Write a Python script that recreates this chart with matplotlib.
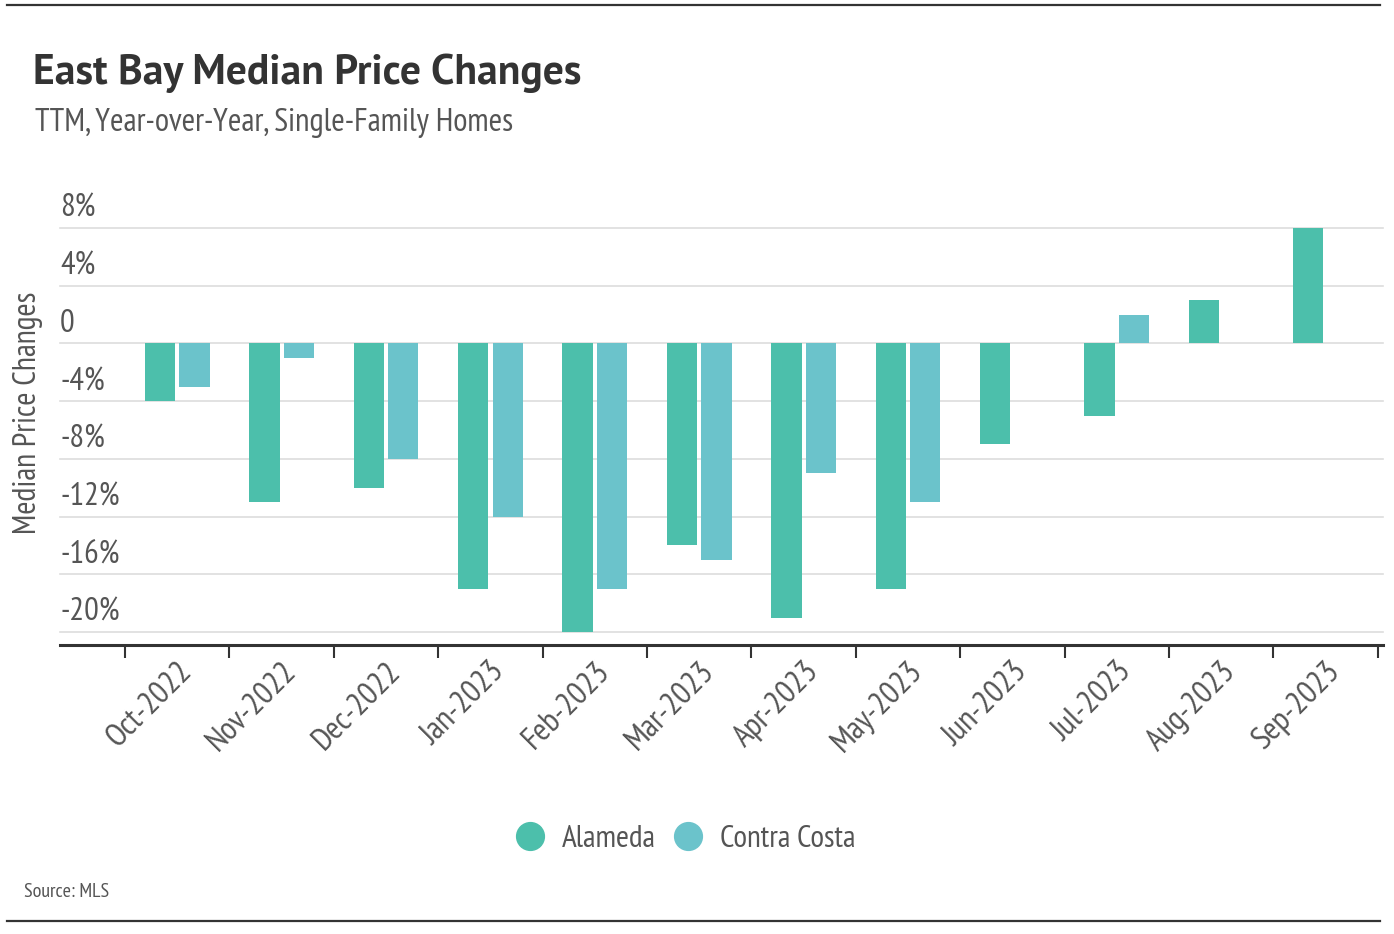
import numpy as np
import matplotlib
matplotlib.use("Agg")
import matplotlib.pyplot as plt
from matplotlib import font_manager
from matplotlib.lines import Line2D
from matplotlib.transforms import blended_transform_factory, offset_copy

# Data
months = ['Oct-2022', 'Nov-2022', 'Dec-2022', 'Jan-2023', 'Feb-2023', 'Mar-2023',
          'Apr-2023', 'May-2023', 'Jun-2023', 'Jul-2023', 'Aug-2023', 'Sep-2023']
alameda = [-4, -11, -10, -17, -20, -14, -19, -17, -7, -5, 3, 8]
contra_costa = [-3, -1, -8, -12, -17, -15, -9, -11, np.nan, 2, np.nan, np.nan]
y_ticks = [8, 4, 0, -4, -8, -12, -16, -20]
y_tick_labels = ['8%', '4%', '0', '-4%', '-8%', '-12%', '-16%', '-20%']

c_alameda = '#4cbfab'
c_contra = '#6bc3cb'
txt = '#555555'
dark = '#333333'

names = {f.name for f in font_manager.fontManager.ttflist}


def pick(prefs):
    return [n for n in prefs if n in names][:1] + ['DejaVu Sans']


narrow = pick(['PT Sans Narrow', 'Roboto Condensed', 'Noto Sans Condensed',
               'Liberation Sans Narrow', 'Lato'])
wide = pick(['PT Sans', 'Lato', 'Noto Sans'])
plt.rcParams['font.family'] = narrow

fig = plt.figure(figsize=(13.94, 9.34), dpi=100)
ax = fig.add_axes([60 / 1394, 1 - 645 / 934, (1383 - 60) / 1394, (645 - 228) / 934])

x = np.arange(len(months))
w = 0.29
ax.bar(x - 0.165, alameda, width=w, color=c_alameda, label='Alameda', zorder=3)
ax.bar(x + 0.165, contra_costa, width=w, color=c_contra, label='Contra Costa', zorder=3)

ax.set_xlim(-1.123, 11.55)
ax.set_ylim(-20.9, 8.0)

# gridlines + labels sitting above them
for v in y_ticks:
    ax.axhline(v, color='#dddddd', lw=1.2, zorder=1, clip_on=False)
trans = blended_transform_factory(ax.transAxes, ax.transData)
trans = offset_copy(trans, fig=fig, x=0, y=11, units='dots')
for v, lab in zip(y_ticks, y_tick_labels):
    ax.text(0, v, lab, transform=trans, ha='left', va='baseline',
            fontsize=23.5, color=txt, clip_on=False)

for s in ['top', 'right', 'left']:
    ax.spines[s].set_visible(False)
ax.spines['bottom'].set_color(dark)
ax.spines['bottom'].set_linewidth(2.2)
ax.set_yticks([])

# category boundaries as minor ticks, labels at centres
ax.set_xticks(np.arange(-0.5, len(months)), minor=True)
ax.tick_params(axis='x', which='minor', length=9, width=1.5, color=dark)
ax.set_xticks(x, months)
ax.tick_params(axis='x', which='major', length=0, pad=8, labelsize=23.5, labelcolor=txt)
for lbl in ax.get_xticklabels():
    lbl.set_rotation(45)
    lbl.set_ha('right')
    lbl.set_va('top')
    lbl.set_rotation_mode('anchor')

fig.text(28 / 1394, 1 - 413 / 934, 'Median Price Changes', rotation=90,
         ha='center', va='center', fontsize=23, color=txt)

fig.text(33 / 1394, 1 - 84 / 934, 'East Bay Median Price Changes', fontsize=30,
         fontweight='bold', color=dark, ha='left', va='baseline', family=wide)
fig.text(35 / 1394, 1 - 131 / 934, 'TTM, Year-over-Year, Single-Family Homes',
         fontsize=23.5, color=txt, ha='left', va='baseline')
fig.text(24 / 1394, 1 - 897 / 934, 'Source: MLS', fontsize=14.5, color=txt,
         ha='left', va='baseline')

handles = [Line2D([], [], marker='o', ls='', ms=20, color=c_alameda, label='Alameda'),
           Line2D([], [], marker='o', ls='', ms=20, color=c_contra, label='Contra Costa')]
fig.legend(handles=handles, loc='center', bbox_to_anchor=(684 / 1394, 1 - 839 / 934),
           ncol=2, frameon=False, fontsize=22.5, labelcolor=txt, handletextpad=0.47,
           columnspacing=0.47, handlelength=1.1)

fig.add_artist(Line2D([7 / 1394, 1380 / 1394], [1 - 5 / 934, 1 - 5 / 934],
                      transform=fig.transFigure, color=dark, lw=1.6))
fig.add_artist(Line2D([7 / 1394, 1380 / 1394], [1 - 921 / 934, 1 - 921 / 934],
                      transform=fig.transFigure, color=dark, lw=1.6))

fig.savefig('out.png', dpi=100, facecolor='white')
